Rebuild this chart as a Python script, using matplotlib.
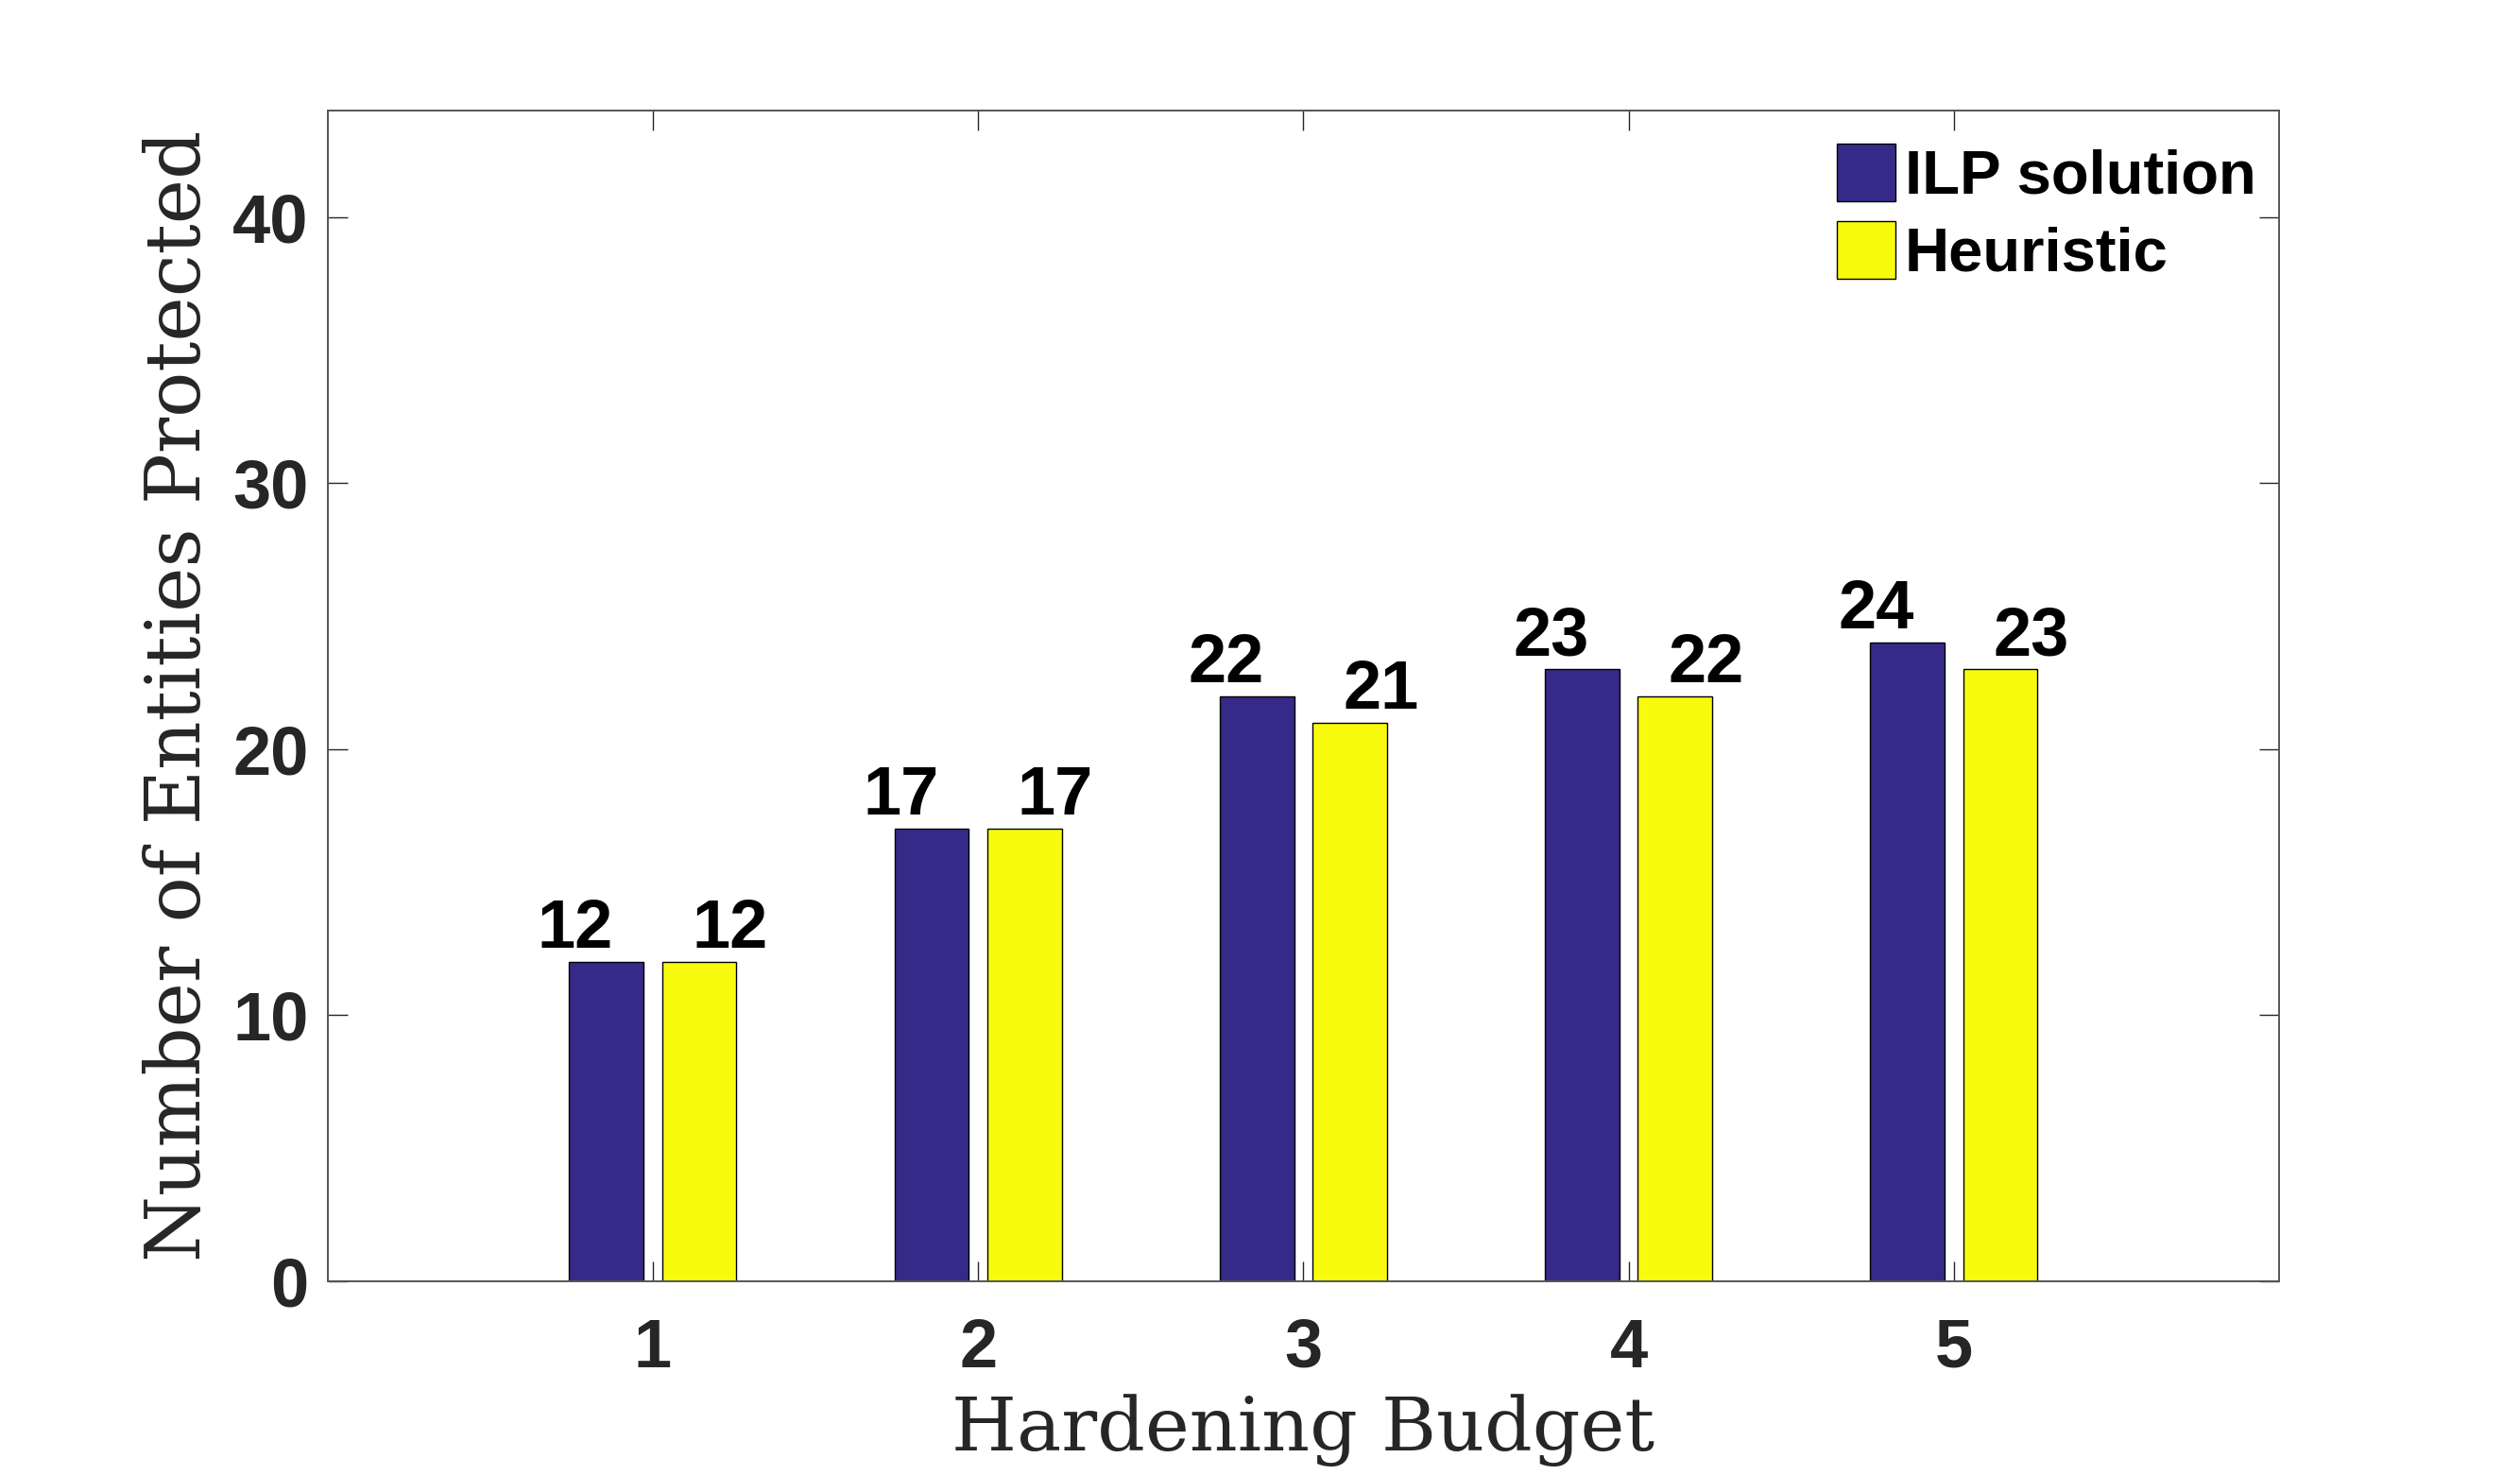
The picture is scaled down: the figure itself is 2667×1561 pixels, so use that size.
import numpy as np
import matplotlib
matplotlib.use("Agg")
import matplotlib.pyplot as plt

# Data
budgets = [1, 2, 3, 4, 5]
ilp_solution = [12, 17, 22, 23, 24]
heuristic = [12, 17, 21, 22, 23]
series_names = ['ILP solution', 'Heuristic']

blue = '#352A87'
yellow = '#F9FB0E'
axis_col = '#262626'

fig = plt.figure(figsize=(13.335, 7.805), dpi=200)
ax = fig.add_axes([0.130, 0.1313, 0.7744, 0.7937])

x = np.array(budgets, dtype=float)
w = 0.2286
off = 0.1429
ax.bar(x - off, ilp_solution, w, color=blue, edgecolor='black', linewidth=0.5, label=series_names[0])
ax.bar(x + off, heuristic, w, color=yellow, edgecolor='black', linewidth=0.5, label=series_names[1])

# value labels above bars
for xi, v in zip(x, ilp_solution):
    ax.text(xi - 0.238, v, str(v), ha='center', va='bottom', fontsize=26,
            fontweight='bold', family='Liberation Sans', color='black')
for xi, v in zip(x, heuristic):
    ax.text(xi + 0.238, v, str(v), ha='center', va='bottom', fontsize=26,
            fontweight='bold', family='Liberation Sans', color='black')

ax.set_xlim(0, 6)
ax.set_ylim(0, 44)
ax.set_xticks(budgets)
ax.set_yticks([0, 10, 20, 30, 40])
ax.tick_params(direction='in', length=7.6, width=0.5, color=axis_col,
               top=True, right=True, labelsize=26, labelcolor=axis_col)
ax.tick_params(axis='x', pad=13.5)
ax.tick_params(axis='y', pad=7.2)
for lab in ax.get_xticklabels() + ax.get_yticklabels():
    lab.set_family('Liberation Sans')
    lab.set_fontweight('bold')
for s in ax.spines.values():
    s.set_color('#555555')
    s.set_linewidth(0.7)

ax.set_xlabel('Hardening Budget', family='DejaVu Serif', fontsize=28.5, color=axis_col, va='center')
ax.set_ylabel('Number of Entities Protected', family='DejaVu Serif', fontsize=28.8, color=axis_col, va='center')
ax.xaxis.set_label_coords(0.5, -0.127)
ax.yaxis.set_label_coords(-0.076, 0.5)

leg = ax.legend(loc='upper left', bbox_to_anchor=(0.7734, 0.972), frameon=False,
                prop={'family': 'Liberation Sans', 'weight': 'bold', 'size': 23.5},
                handlelength=0.95, handleheight=1.07, handletextpad=0.15,
                labelspacing=0.25, borderpad=0, borderaxespad=0)

fig.savefig('out.png', dpi=200)
